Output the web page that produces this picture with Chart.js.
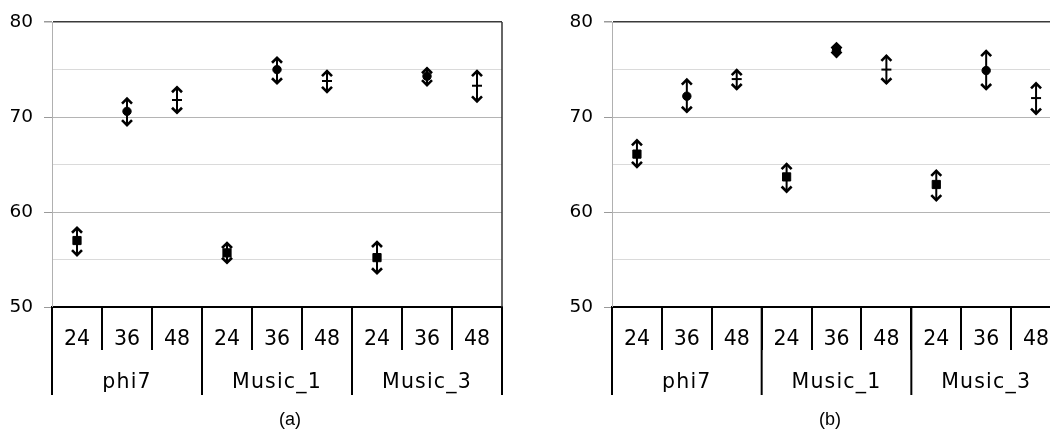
<!DOCTYPE html>
<html>
<head>
<meta charset="utf-8">
<script src="https://cdn.jsdelivr.net/npm/chart.js@4.4.1/dist/chart.umd.min.js"></script>
<style>
  html, body { margin: 0; padding: 0; background: #fff; }
  body { width: 1050px; height: 435px; position: relative; overflow: hidden; }
  .box { position: absolute; top: 0; height: 435px; }
  #boxA { left: 0; width: 525px; }
  #boxB { left: 530px; width: 520px; overflow: hidden; }
  #boxB .inner { position: relative; width: 540px; height: 435px; }
  .cap { position: absolute; top: 409px; font: 18px "Liberation Sans", Arial, sans-serif; color: #000; transform: translateX(-50%); }
</style>
</head>
<body>
<div class="box" id="boxA"><canvas id="chartA"></canvas></div>
<div class="box" id="boxB"><div class="inner"><canvas id="chartB"></canvas></div></div>
<div class="cap" style="left:290px">(a)</div>
<div class="cap" style="left:830px">(b)</div>

<script>
// categories
const groups = ['phi7', 'Music_1', 'Music_3'];
const lengths = ['24', '36', '48'];
const labels = groups.flatMap(g => lengths.map(l => g + ' ' + l));

// y axis ticks
const yMin = 50, yMax = 80, yStep = 5;

// (a) mean and error range (low / high end of the arrows)
const meanA = [57.0, 70.6, 71.8, 55.7, 75.0, 73.8, 55.2, 74.3, 73.3];
const lowA  = [55.3, 69.0, 70.3, 54.5, 73.4, 72.5, 53.4, 73.2, 71.5];
const highA = [58.5, 72.1, 73.3, 56.9, 76.4, 75.0, 57.0, 75.3, 75.0];

// (b)
const meanB = [66.1, 72.2, 74.0, 63.7, 77.0, 75.0, 62.9, 74.9, 72.0];
const lowB  = [64.6, 70.4, 72.8, 62.0, 76.2, 73.4, 61.1, 72.8, 70.2];
const highB = [67.7, 74.1, 75.1, 65.2, 77.9, 76.6, 64.5, 77.1, 73.7];

// marker look per length
const markers = {
  '24': { style: 'rect', r: 5.8, bw: 1 },
  '36': { style: 'circle', r: 4.2, bw: 1 },
  '48': { style: 'line', r: 5, bw: 2 }
};
const markerFor = i => markers[lengths[i % lengths.length]];

const labelFont = '20.5px "DejaVu Sans", Verdana, sans-serif';

// arrows drawn under the markers
const errorBars = {
  id: 'errorBars',
  beforeDatasetsDraw(chart, args, opts) {
    const ctx = chart.ctx;
    const x = chart.scales.x, y = chart.scales.y;
    ctx.save();
    ctx.strokeStyle = '#000';
    ctx.lineJoin = 'miter';
    opts.low.forEach((lo, i) => {
      const px = x.getPixelForValue(i);
      const top = y.getPixelForValue(opts.high[i]);
      const bot = y.getPixelForValue(lo);
      ctx.lineWidth = 2;
      ctx.beginPath();
      ctx.moveTo(px, top + 1);
      ctx.lineTo(px, bot - 1);
      ctx.stroke();
      ctx.lineWidth = 2.6;
      ctx.beginPath();
      ctx.moveTo(px - 5, top + 6.5);
      ctx.lineTo(px, top + 1.5);
      ctx.lineTo(px + 5, top + 6.5);
      ctx.moveTo(px - 5, bot - 6.5);
      ctx.lineTo(px, bot - 1.5);
      ctx.lineTo(px + 5, bot - 6.5);
      ctx.stroke();
    });
    ctx.restore();
  }
};

// two-level category labels, group dividers and the plot frame
const groupAxis = {
  id: 'groupAxis',
  afterDraw(chart) {
    const ctx = chart.ctx;
    const x = chart.scales.x;
    const area = chart.chartArea;
    const half = (x.getPixelForValue(1) - x.getPixelForValue(0)) / 2;
    ctx.save();
    // right frame
    ctx.strokeStyle = '#333';
    ctx.lineWidth = 1.5;
    ctx.beginPath();
    ctx.moveTo(area.right, area.top);
    ctx.lineTo(area.right, area.bottom);
    ctx.stroke();
    // group dividers
    ctx.strokeStyle = '#000';
    ctx.lineWidth = 2;
    for (let g = 0; g <= groups.length; g++) {
      const px = x.getPixelForValue(g * lengths.length) - half;
      ctx.beginPath();
      ctx.moveTo(px, area.bottom);
      ctx.lineTo(px, area.bottom + 88);
      ctx.stroke();
    }
    ctx.fillStyle = '#000';
    ctx.textAlign = 'center';
    ctx.textBaseline = 'alphabetic';
    ctx.font = labelFont;
    labels.forEach((l, i) => {
      ctx.fillText(lengths[i % lengths.length], x.getPixelForValue(i), area.bottom + 38);
    });
    ctx.letterSpacing = '1.2px';
    groups.forEach((g, k) => {
      const c = x.getPixelForValue(k * lengths.length + 1);
      ctx.fillText(g, c, area.bottom + 81);
    });
    ctx.restore();
  }
};

function makeChart(id, mean, low, high, yWidth, padRight) {
  return new Chart(document.getElementById(id), {
    type: 'line',
    data: {
      labels: labels,
      datasets: [{
        data: mean,
        showLine: false,
        pointStyle: c => markerFor(c.dataIndex).style,
        pointRadius: c => markerFor(c.dataIndex).r,
        pointBorderWidth: c => markerFor(c.dataIndex).bw,
        pointBackgroundColor: '#000',
        pointBorderColor: '#000'
      }]
    },
    options: {
      responsive: true,
      maintainAspectRatio: false,
      animation: false,
      events: [],
      layout: { padding: { top: 14, right: padRight, left: 0, bottom: 0 } },
      plugins: {
        legend: { display: false },
        tooltip: { enabled: false },
        errorBars: { low: low, high: high }
      },
      scales: {
        x: {
          type: 'category',
          offset: true,
          afterFit: s => { s.height = 128; },
          grid: {
            offset: true,
            drawOnChartArea: false,
            drawTicks: true,
            tickLength: 43,
            color: '#000',
            lineWidth: 2
          },
          border: { color: '#000', width: 2 },
          ticks: { display: false }
        },
        y: {
          min: yMin,
          max: yMax,
          afterFit: s => { s.width = yWidth; },
          grid: {
            tickLength: 8,
            color: c => {
              const v = c.tick.value;
              if (v === yMin) return 'rgba(0,0,0,0)';
              if (v === yMax) return '#3a3a3a';
              return v % 10 === 0 ? '#b4b4b4' : '#dadada';
            },
            tickColor: c => (c.tick.value % 10 === 0 ? '#9a9a9a' : 'rgba(0,0,0,0)'),
            lineWidth: c => (c.tick.value === yMax ? 1.5 : 1)
          },
          border: { color: '#b0b0b0', width: 1 },
          ticks: {
            stepSize: yStep,
            padding: 11,
            color: '#000',
            font: { family: '"DejaVu Sans", Verdana, sans-serif', size: 18.5 },
            callback: v => (v % 10 === 0 ? String(v) : '')
          }
        }
      }
    },
    plugins: [errorBars, groupAxis]
  });
}

makeChart('chartA', meanA, lowA, highA, 52, 23);
makeChart('chartB', meanB, lowB, highB, 82, 9);
</script>
</body>
</html>
